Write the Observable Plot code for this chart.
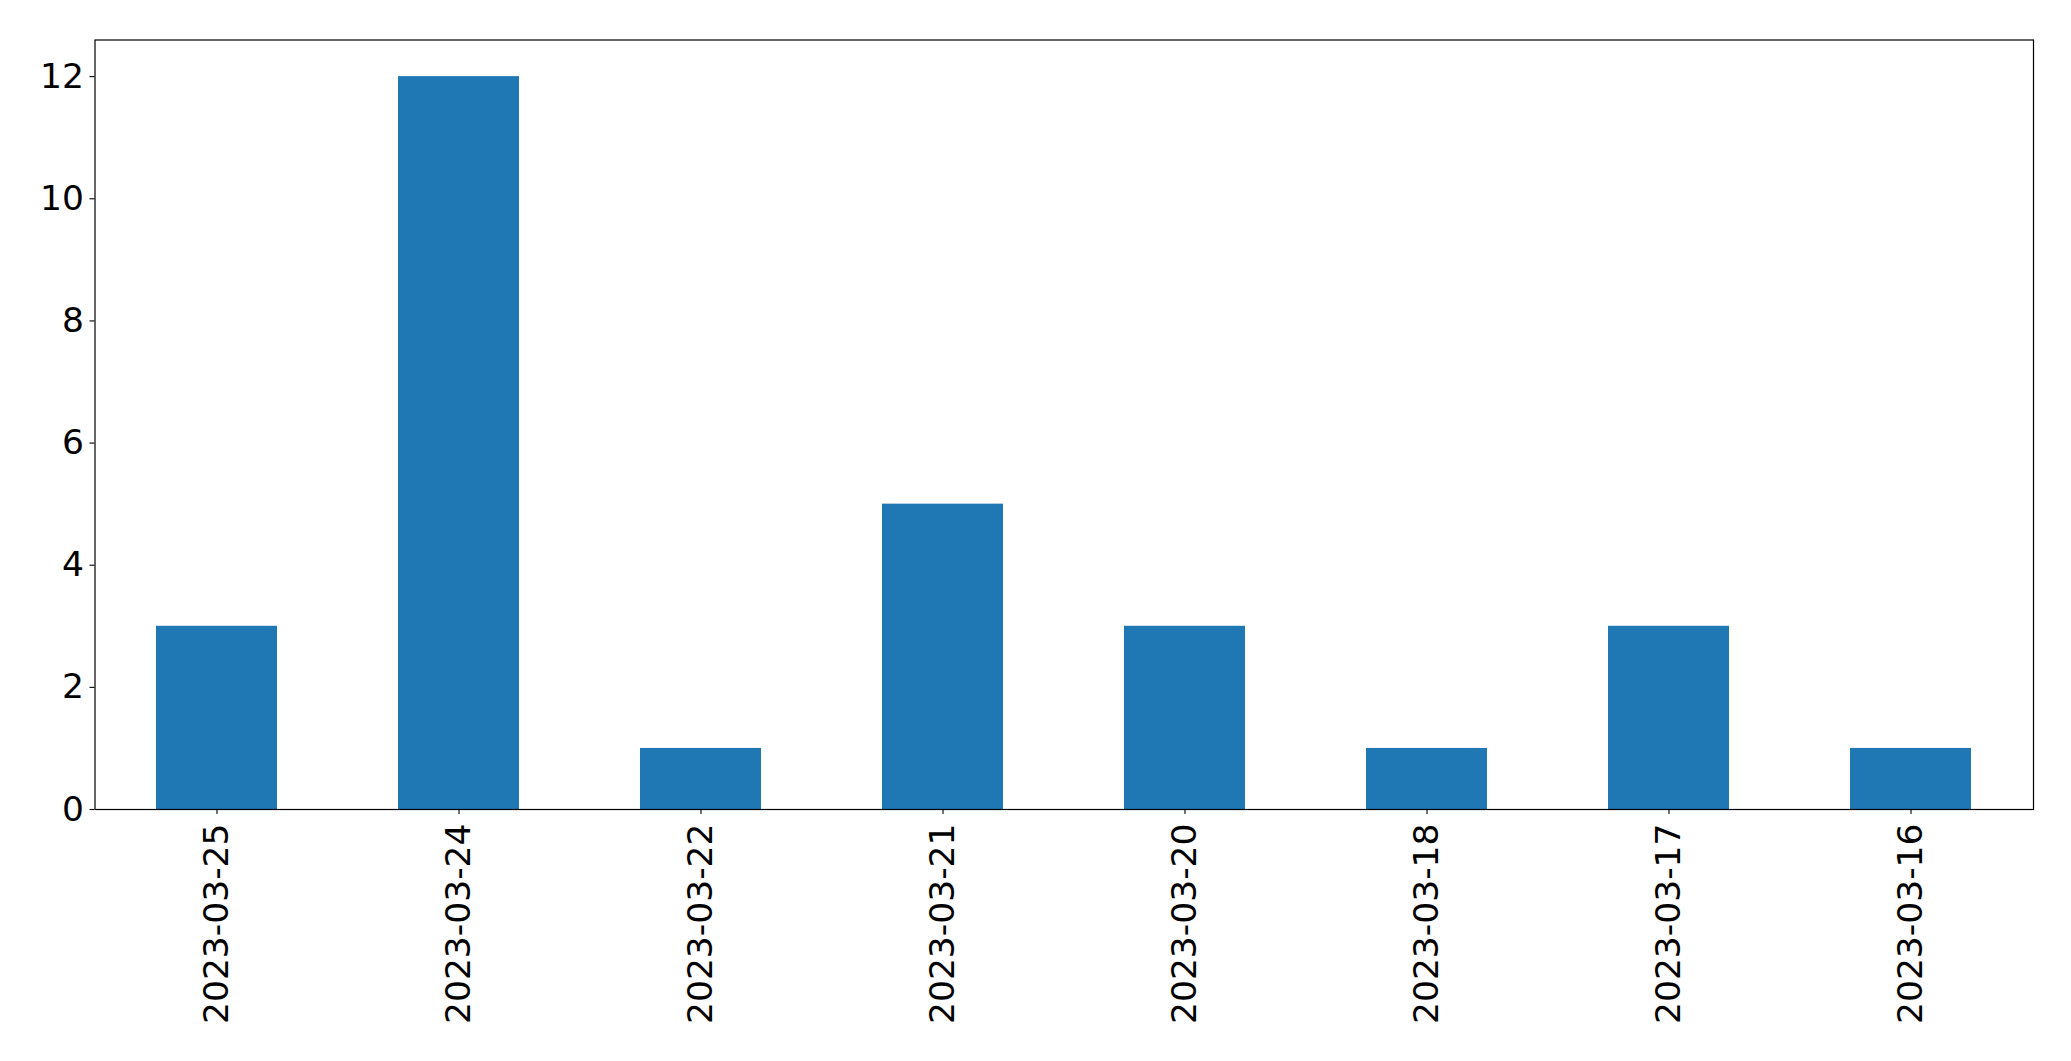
<!DOCTYPE html>
<html>
<head>
<meta charset="utf-8">
<script src="https://cdn.jsdelivr.net/npm/d3@7"></script>
<script src="https://cdn.jsdelivr.net/npm/@observablehq/plot@0.6"></script>
<style>
  html, body { margin: 0; padding: 0; background: #fff; overflow: hidden; }
  svg { display: block; }
</style>
</head>
<body>
<div id="chart"></div>
<script>
const dates = ["2023-03-25", "2023-03-24", "2023-03-22", "2023-03-21", "2023-03-20", "2023-03-18", "2023-03-17", "2023-03-16"];
const counts = [3, 12, 1, 5, 3, 1, 3, 1];
const yTicks = [0, 2, 4, 6, 8, 10, 12];

const data = dates.map((d, i) => ({date: d, count: counts[i]}));

const chart = Plot.plot({
  width: 2071,
  height: 1061,
  marginLeft: 94.5,
  marginRight: 38,
  marginTop: 39.5,
  marginBottom: 252,
  style: {fontFamily: "DejaVu Sans", fontSize: "34.5px", color: "#000", background: "#fff"},
  x: {domain: dates, type: "band", paddingInner: 0.5, paddingOuter: 0.25, label: null},
  y: {domain: [0, 12.6], label: null},
  marks: [
    Plot.barY(data, {x: "date", y: "count", fill: "#1f77b4"}),
    Plot.axisY({ticks: yTicks, tickSize: 5, tickPadding: 6, fontSize: 34.5, label: null, strokeWidth: 1.1, stroke: "#000"}),
    Plot.axisX({tickSize: 5, tickPadding: 9, tickRotate: -90, fontSize: 34.5, label: null, strokeWidth: 1.1, stroke: "#000"}),
    Plot.frame({stroke: "#000", strokeWidth: 1.2})
  ]
});
document.getElementById("chart").appendChild(chart);
</script>
</body>
</html>
